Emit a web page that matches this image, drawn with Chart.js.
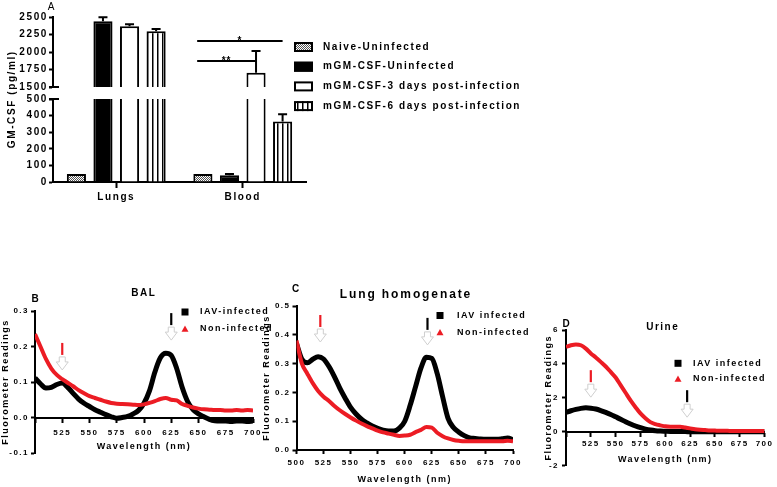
<!DOCTYPE html>
<html><head><meta charset="utf-8">
<script src="https://cdn.jsdelivr.net/npm/chart.js@4/dist/chart.umd.min.js"></script>
<style>
html,body{margin:0;padding:0;background:#fff;overflow:hidden;width:777px;height:487px}
canvas{position:absolute;left:0;top:0}
</style></head><body>
<canvas id="aTop" width="777" height="520"></canvas>
<canvas id="aBot" width="777" height="520"></canvas>
<canvas id="pB" width="777" height="520"></canvas>
<canvas id="pC" width="777" height="520"></canvas>
<canvas id="pD" width="777" height="520"></canvas>
<script>
// ---------- DATA ----------
const gmGroups = ['Lungs', 'Blood'];
const gmSeries = ['Naive-Uninfected', 'mGM-CSF-Uninfected', 'mGM-CSF-3 days post-infection', 'mGM-CSF-6 days post-infection'];
const naiveUninfected = [48, 48];
const mgmUninfected = [2440, 40];
const mgm3days = [2368, 1704];
const mgm6days = [2297, 364];
const naiveUninfectedErr = [0, 0];
const mgmUninfectedErr = [55, 8];
const mgm3daysErr = [28, 310];
const mgm6daysErr = [33, 44];
const gmTopTicks = [1500, 1750, 2000, 2250, 2500];
const gmBottomTicks = [0, 100, 200, 300, 400, 500];
const sigLabels = ['*', '**'];
const sigValues = [2157, 1871];
const sigTargets = [3, 2]; // dataset index of the compared Blood bar

const wavelengths = [500,505,510,515,520,525,530,535,540,545,550,555,560,565,570,575,580,585,590,595,600,605,610,615,620,625,630,635,640,645,650,655,660,665,670,675,680,685,690,695,700];
const wlTicks = [500, 525, 550, 575, 600, 625, 650, 675, 700];

const balInfected = [0.111,0.095,0.083,0.085,0.093,0.097,0.085,0.068,0.052,0.040,0.031,0.022,0.015,0.008,0.002,-0.002,0.000,0.003,0.010,0.020,0.040,0.075,0.128,0.168,0.181,0.175,0.138,0.085,0.045,0.022,0.010,0.002,-0.005,-0.009,-0.010,-0.010,-0.011,-0.010,-0.010,-0.011,-0.010];
const balNonInfected = [0.235,0.200,0.165,0.138,0.120,0.108,0.098,0.088,0.077,0.068,0.060,0.055,0.050,0.045,0.041,0.039,0.038,0.037,0.036,0.035,0.037,0.041,0.046,0.052,0.055,0.050,0.048,0.038,0.033,0.028,0.025,0.023,0.022,0.021,0.021,0.020,0.020,0.021,0.020,0.021,0.020];
const balYTicks = [-0.1, 0, 0.1, 0.2, 0.3];
const balArrowNm = [525, 625];
const balArrowVal = [0.134, 0.218];

const lungInfected = [0.370,0.315,0.303,0.315,0.324,0.316,0.290,0.255,0.215,0.180,0.148,0.125,0.107,0.094,0.083,0.075,0.069,0.066,0.066,0.076,0.100,0.155,0.220,0.285,0.322,0.318,0.265,0.185,0.110,0.078,0.062,0.050,0.042,0.040,0.038,0.037,0.037,0.037,0.039,0.042,0.035];
const lungNonInfected = [0.380,0.300,0.265,0.232,0.205,0.185,0.170,0.153,0.138,0.125,0.113,0.102,0.092,0.083,0.075,0.067,0.061,0.057,0.053,0.049,0.050,0.053,0.062,0.070,0.080,0.078,0.060,0.048,0.040,0.035,0.032,0.030,0.030,0.030,0.030,0.030,0.030,0.030,0.030,0.032,0.030];
const lungYTicks = [0, 0.1, 0.2, 0.3, 0.4, 0.5];
const lungArrowNm = [522, 621];
const lungArrowVal = [0.375, 0.365];

const urineInfected = [1.14,1.24,1.32,1.38,1.41,1.39,1.34,1.25,1.14,1.02,0.88,0.74,0.59,0.46,0.34,0.24,0.16,0.10,0.06,0.04,0.03,0.02,0.02,0.01,0.01,0,0,0,0,0,0,0,0,0,0,0,0,0,0,0,0];
const urineNonInfected = [5.00,5.10,5.15,5.10,4.90,4.62,4.38,4.12,3.85,3.53,3.20,2.75,2.30,1.85,1.45,1.08,0.80,0.57,0.45,0.38,0.32,0.30,0.30,0.30,0.25,0.20,0.15,0.12,0.10,0.08,0.07,0.06,0.06,0.05,0.05,0.05,0.05,0.05,0.05,0.05,0.05];
const urineYTicks = [-2, 0, 2, 4, 6];
const urineArrowNm = [525, 622];
const urineArrowVal = [2.04, 0.86];

// ---------- STYLE / SETUP ----------
const CW = 777, CH = 520;
const RED = 'rgb(236,28,36)';
const FONT = '"Liberation Sans", Arial, sans-serif';
Chart.defaults.font.family = FONT;
Chart.defaults.font.weight = 'bold';
Chart.defaults.color = '#000';
Chart.defaults.animation = false;
Chart.defaults.plugins.legend.display = false;
Chart.defaults.plugins.tooltip.enabled = false;

Chart.register({
  id: 'ls',
  defaults: { px: 1.5 },
  beforeUpdate(c, a, o) { c.ctx.letterSpacing = o.px + 'px'; },
  beforeDraw(c, a, o) { c.ctx.letterSpacing = o.px + 'px'; }
});

function tileCanvas(w, h, draw) {
  const c = document.createElement('canvas'); c.width = w; c.height = h;
  draw(c.getContext('2d')); return c;
}
const patCtx = document.createElement('canvas').getContext('2d');
const checkPat = patCtx.createPattern(tileCanvas(2, 2, x => {
  x.fillStyle = '#fff'; x.fillRect(0, 0, 2, 2);
  x.fillStyle = '#555'; x.fillRect(0, 0, 1, 1); x.fillRect(1, 1, 1, 1);
}), 'repeat');
const stripePat = patCtx.createPattern(tileCanvas(5, 4, x => {
  x.fillStyle = '#fff'; x.fillRect(0, 0, 5, 4);
  x.fillStyle = '#000'; x.fillRect(2, 0, 1.5, 4);
}), 'repeat');
const gmFills = [checkPat, '#000', '#fff', stripePat];
const gmValues = [naiveUninfected, mgmUninfected, mgm3days, mgm6days];
const gmErrs = [naiveUninfectedErr, mgmUninfectedErr, mgm3daysErr, mgm6daysErr];

// padding so the chart area lands on `area`; axes positioned at a value take no layout room
function pad(area, yW, xH) {
  return { left: area.left - yW, top: area.top, right: CW - area.right, bottom: CH - area.bottom - xH };
}
const fixW = w => s => { s.width = w; };
const fixH = h => s => { s.height = h; };
const setTicks = arr => s => { s.ticks = arr.map(v => ({ value: v })); };

function text(ctx, t) {
  ctx.save();
  ctx.font = (t.weight || 'bold') + ' ' + t.size + 'px ' + FONT;
  ctx.letterSpacing = (t.ls || 0) + 'px';
  ctx.fillStyle = t.color || '#000';
  ctx.textAlign = t.align || 'center';
  ctx.textBaseline = 'middle';
  ctx.translate(t.x, t.y);
  if (t.rot) ctx.rotate(t.rot);
  ctx.fillText(t.text, t.align === 'left' ? 0 : (t.ls || 0) / 2, 0);
  ctx.restore();
}

function drawArrow(ctx, x, tip, color) {
  ctx.save();
  ctx.strokeStyle = color; ctx.lineWidth = 2.2;
  ctx.beginPath(); ctx.moveTo(x, tip - 27); ctx.lineTo(x, tip - 15); ctx.stroke();
  ctx.strokeStyle = '#cfcfcf'; ctx.lineWidth = 1;
  ctx.beginPath();
  ctx.moveTo(x - 3, tip - 13); ctx.lineTo(x + 3, tip - 13); ctx.lineTo(x + 3, tip - 8);
  ctx.lineTo(x + 6, tip - 8); ctx.lineTo(x, tip); ctx.lineTo(x - 6, tip - 8);
  ctx.lineTo(x - 3, tip - 8); ctx.closePath(); ctx.stroke();
  ctx.restore();
}

const extras = {
  id: 'extras',
  afterDatasetsDraw(chart, a, o) {
    const ctx = chart.ctx, ys = chart.scales.y, xs = chart.scales.x, ca = chart.chartArea;
    if (o.errs) {
      ctx.save();
      ctx.beginPath(); ctx.rect(ca.left, ca.top - 3, ca.right - ca.left, ca.bottom - ca.top + 3); ctx.clip();
      ctx.strokeStyle = '#000'; ctx.lineWidth = 2;
      o.errs.forEach((errs, di) => {
        const meta = chart.getDatasetMeta(di);
        errs.forEach((e, j) => {
          if (!e) return;
          const v = chart.data.datasets[di].data[j];
          const bx = meta.data[j].x;
          const y0 = ys.getPixelForValue(v), y1 = ys.getPixelForValue(v + e);
          ctx.beginPath(); ctx.moveTo(bx, y0); ctx.lineTo(bx, y1);
          ctx.moveTo(bx - 4.5, y1); ctx.lineTo(bx + 4.5, y1); ctx.stroke();
        });
      });
      ctx.restore();
    }
    if (o.sig) {
      ctx.save();
      ctx.strokeStyle = '#000'; ctx.lineWidth = 2;
      o.sig.labels.forEach((lab, k) => {
        const a0 = chart.getDatasetMeta(0).data[1];
        const b0 = chart.getDatasetMeta(o.sig.targets[k]).data[1];
        const x0 = a0.x - a0.width * 0.3, x1 = b0.x;
        const y = ys.getPixelForValue(o.sig.values[k]);
        ctx.beginPath(); ctx.moveTo(x0, y); ctx.lineTo(x1, y); ctx.stroke();
        ctx.font = 'bold 10px ' + FONT; ctx.textAlign = 'center'; ctx.textBaseline = 'alphabetic';
        ctx.letterSpacing = '1px'; ctx.fillStyle = '#000';
        ctx.fillText(lab, (x0 + x1) / 2, y + 3);
      });
      ctx.restore();
    }
    if (o.breakAt) {
      ctx.save(); ctx.strokeStyle = '#000'; ctx.lineWidth = 2;
      const y = o.breakAt === 'bottom' ? ca.bottom : ca.top;
      ctx.beginPath(); ctx.moveTo(ca.left - 4, y); ctx.lineTo(ca.left + 6, y); ctx.stroke();
      ctx.restore();
    }
    if (o.arrows) {
      o.arrows.nm.forEach((nm, i) => {
        drawArrow(ctx, xs.getPixelForValue(nm), ys.getPixelForValue(o.arrows.val[i]), o.arrows.colors[i]);
      });
    }
  },
  afterDraw(chart, a, o) {
    const ctx = chart.ctx;
    (o.texts || []).forEach(t => text(ctx, t));
    if (o.barLegend) {
      const L = o.barLegend;
      L.names.forEach((name, i) => {
        const y = L.y + i * L.gap;
        ctx.save();
        ctx.fillStyle = L.fills[i]; ctx.fillRect(L.x, y - 5, 19, 10);
        ctx.strokeStyle = '#000'; ctx.lineWidth = 2; ctx.strokeRect(L.x + 1, y - 4, 17, 8);
        ctx.restore();
        text(ctx, { text: name, x: L.x + 29, y: y, size: 10, ls: 1.6, align: 'left' });
      });
    }
    if (o.lineLegend) {
      const L = o.lineLegend;
      ctx.save();
      ctx.fillStyle = '#000'; ctx.fillRect(L.x - 3.5, L.y1 - 3.5, 7, 7);
      ctx.fillStyle = RED; ctx.beginPath();
      ctx.moveTo(L.x, L.y2 - 3.5); ctx.lineTo(L.x + 3.5, L.y2 + 2.8); ctx.lineTo(L.x - 3.5, L.y2 + 2.8); ctx.closePath(); ctx.fill();
      ctx.restore();
      text(ctx, { text: L.names[0], x: L.tx, y: L.y1, size: 9, ls: 1.5, align: 'left' });
      text(ctx, { text: L.names[1], x: L.tx, y: L.y2, size: 9, ls: 1.5, align: 'left' });
    }
  }
};

// ---------- PANEL A (broken axis: two stacked charts) ----------
function barDatasets() {
  return gmSeries.map((name, i) => ({
    label: name, data: gmValues[i], backgroundColor: gmFills[i], borderColor: '#000',
    borderWidth: 2, clip: 0, categoryPercentage: 0.84, barPercentage: 0.72
  }));
}
const yAxisA = (ticks, yW) => ({
  min: ticks[0], max: ticks[ticks.length - 1], afterBuildTicks: setTicks(ticks), afterFit: fixW(yW),
  ticks: { font: { size: 10 }, padding: 1, callback: v => String(v) },
  grid: { drawOnChartArea: false, tickLength: 4, tickWidth: 2, tickColor: '#000' },
  border: { display: true, color: '#000', width: 2 }
});

const areaATop = { left: 53, right: 306, top: 17, bottom: 87 };
new Chart(document.getElementById('aTop'), {
  type: 'bar',
  data: { labels: gmGroups, datasets: barDatasets() },
  options: {
    responsive: false,
    layout: { padding: pad(areaATop, 53, 0) },
    scales: { x: { display: false }, y: yAxisA(gmTopTicks, 53) },
    plugins: {
      ls: { px: 1.6 },
      extras: {
        errs: gmErrs, breakAt: 'bottom',
        sig: { labels: sigLabels, values: sigValues, targets: sigTargets },
        barLegend: { names: gmSeries, fills: gmFills, x: 294, y: 47, gap: 19.7 }
      }
    }
  },
  plugins: [extras]
});

const areaABot = { left: 53, right: 306, top: 99, bottom: 182 };
new Chart(document.getElementById('aBot'), {
  type: 'bar',
  data: { labels: gmGroups, datasets: barDatasets() },
  options: {
    responsive: false,
    layout: { padding: pad(areaABot, 53, 20) },
    scales: {
      x: {
        afterFit: fixH(20),
        ticks: { font: { size: 10 }, padding: 3 },
        grid: { drawOnChartArea: false, offset: false, tickLength: 6, tickWidth: 2, tickColor: '#000' },
        border: { display: true, color: '#000', width: 2 }
      },
      y: yAxisA(gmBottomTicks, 53)
    },
    plugins: {
      ls: { px: 1.6 },
      extras: {
        errs: gmErrs, breakAt: 'top',
        texts: [
          { text: 'GM-CSF (pg/ml)', x: 12.5, y: 100, size: 10, ls: 1.6, rot: -Math.PI / 2 },
          { text: 'A', x: 51, y: 7, size: 10, weight: 'normal' }
        ]
      }
    }
  },
  plugins: [extras]
});

// ---------- PANELS B, C, D ----------
function spectrum(id, p) {
  const pts = vals => wavelengths.map((w, i) => ({ x: w, y: vals[i] }));
  const layoutXH = (typeof p.xPos === 'object') ? 0 : p.xH;
  return new Chart(document.getElementById(id), {
    type: 'line',
    data: {
      datasets: [
        { label: p.legend[0], data: pts(p.inf), borderColor: '#000', borderWidth: 5, pointRadius: 0, cubicInterpolationMode: 'monotone', order: 1, pointStyle: 'rect' },
        { label: p.legend[1], data: pts(p.non), borderColor: RED, borderWidth: 4, pointRadius: 0, cubicInterpolationMode: 'monotone', order: 0, pointStyle: 'triangle' }
      ]
    },
    options: {
      responsive: false,
      layout: { padding: pad(p.area, p.yW, layoutXH) },
      scales: {
        x: {
          type: 'linear', min: 500, max: 700, position: p.xPos,
          afterBuildTicks: setTicks(wlTicks), afterFit: fixH(p.xH),
          ticks: { font: { size: 8 }, padding: p.xPad, maxRotation: 0, autoSkip: false,
                   callback: v => (p.hide500 && v === 500) ? '' : String(v) },
          grid: { drawOnChartArea: false, tickLength: 4, tickWidth: 2, tickColor: '#000' },
          border: { display: true, color: '#000', width: 2 },
          title: { display: true, text: 'Wavelength (nm)', font: { size: 9 }, padding: 0 }
        },
        y: {
          type: 'linear', min: p.yTicks[0], max: p.yTicks[p.yTicks.length - 1],
          afterBuildTicks: setTicks(p.yTicks), afterFit: fixW(p.yW),
          ticks: { font: { size: 8 }, padding: p.yPad, callback: v => p.fmt(v) },
          grid: { drawOnChartArea: false, tickLength: 4, tickWidth: 2, tickColor: '#000' },
          border: { display: true, color: '#000', width: 2 },
          title: { display: true, text: 'Fluorometer Readings', font: { size: 9 }, padding: 0 }
        }
      },
      plugins: {
        ls: { px: 1.5 },
        extras: {
          arrows: { nm: p.arrowNm, val: p.arrowVal, colors: [RED, '#000'] },
          texts: p.texts,
          lineLegend: Object.assign({ names: p.legend }, p.legendPos)
        }
      }
    },
    plugins: [extras]
  });
}

spectrum('pB', {
  inf: balInfected, non: balNonInfected, yTicks: balYTicks, fmt: v => v.toFixed(1),
  area: { left: 35, right: 253, top: 311, bottom: 453 }, yW: 35, xH: 34, xPos: { y: 0 }, xPad: 6, yPad: 2, hide500: true,
  arrowNm: balArrowNm, arrowVal: balArrowVal,
  legend: ['IAV-infected', 'Non-infected'], legendPos: { x: 185, y1: 312, y2: 329, tx: 200 },
  texts: [{ text: 'BAL', x: 143, y: 293, size: 10, ls: 1.5 }, { text: 'B', x: 35, y: 299.5, size: 10 }]
});

spectrum('pC', {
  inf: lungInfected, non: lungNonInfected, yTicks: lungYTicks, fmt: v => v.toFixed(1),
  area: { left: 296.5, right: 513, top: 306, bottom: 450 }, yW: 35, xH: 35.4, xPos: 'bottom', xPad: 4, yPad: 2, hide500: false,
  arrowNm: lungArrowNm, arrowVal: lungArrowVal,
  legend: ['IAV infected', 'Non-infected'], legendPos: { x: 440, y1: 315.5, y2: 332.5, tx: 457 },
  texts: [{ text: 'Lung homogenate', x: 405, y: 295, size: 12, ls: 1.9 }, { text: 'C', x: 295.5, y: 289.5, size: 10 }]
});

spectrum('pD', {
  inf: urineInfected, non: urineNonInfected, yTicks: urineYTicks, fmt: v => String(v),
  area: { left: 566, right: 768, top: 330, bottom: 465.7 }, yW: 23, xH: 32.7, xPos: { y: 0 }, xPad: 3.5, yPad: 3, hide500: true,
  arrowNm: urineArrowNm, arrowVal: urineArrowVal,
  legend: ['IAV infected', 'Non-infected'], legendPos: { x: 678, y1: 363.3, y2: 379, tx: 693 },
  texts: [{ text: 'Urine', x: 662, y: 327, size: 10, ls: 1.5 }, { text: 'D', x: 566, y: 324, size: 10 }]
});
</script>
</body></html>
